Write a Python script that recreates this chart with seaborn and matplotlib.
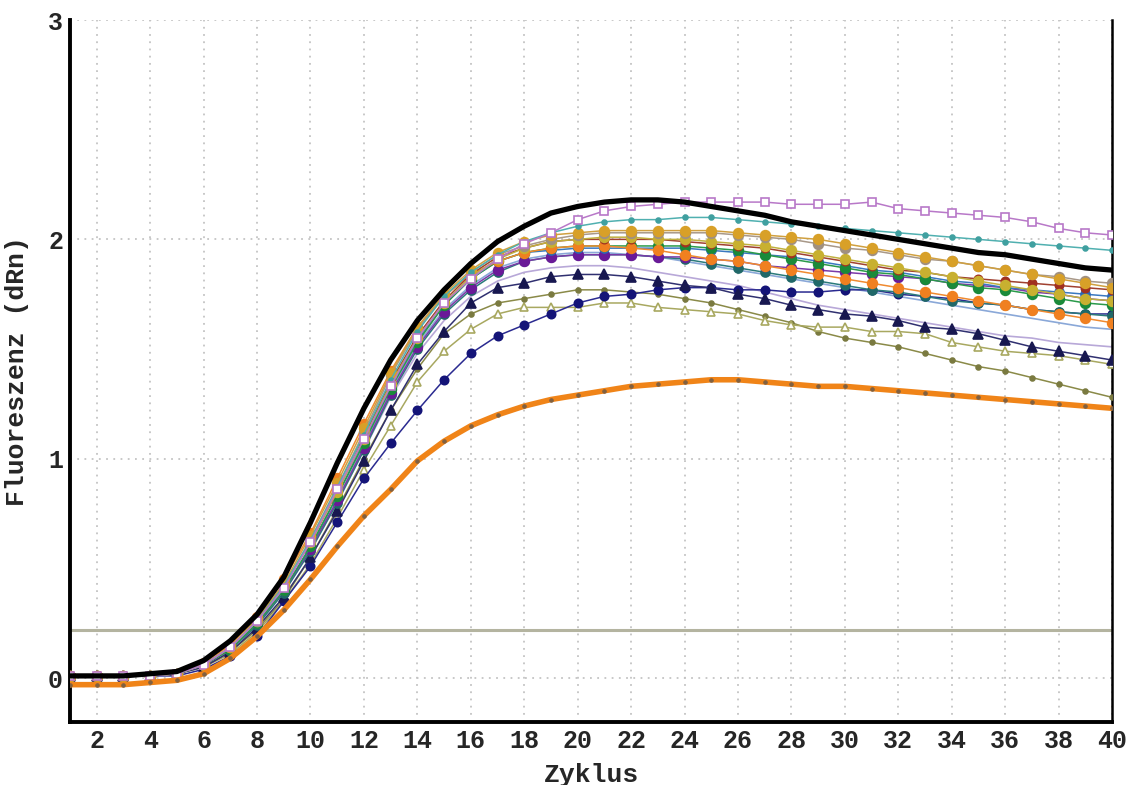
import numpy as np
import pandas as pd
import matplotlib
matplotlib.use("Agg")
import matplotlib.pyplot as plt
import seaborn as sns

cycles = list(range(1, 41))
x_ticks = list(range(2, 41, 2))
y_ticks = [0, 1, 2, 3]
threshold = 0.22

black_ref = [0.01,0.01,0.01,0.02,0.03,0.08,0.17,0.29,0.46,0.71,0.98,1.23,1.45,1.63,1.77,1.89,1.99,2.06,2.12,2.15,2.17,2.18,2.18,2.17,2.15,2.13,2.11,2.08,2.06,2.04,2.02,2.00,1.98,1.96,1.94,1.93,1.91,1.89,1.87,1.86]
orange_ref = [-0.03,-0.03,-0.03,-0.02,-0.01,0.02,0.09,0.19,0.31,0.45,0.60,0.74,0.86,0.99,1.08,1.15,1.20,1.24,1.27,1.29,1.31,1.33,1.34,1.35,1.36,1.36,1.35,1.34,1.33,1.33,1.32,1.31,1.30,1.29,1.28,1.27,1.26,1.25,1.24,1.23]

s_pink = [0.01,0.01,0.01,0.01,0.02,0.06,0.14,0.26,0.41,0.62,0.86,1.09,1.33,1.55,1.71,1.82,1.91,1.98,2.03,2.09,2.13,2.15,2.16,2.17,2.17,2.17,2.17,2.16,2.16,2.16,2.17,2.14,2.13,2.12,2.11,2.10,2.08,2.05,2.03,2.02]
s_teal = [0.01,0.01,0.01,0.01,0.02,0.06,0.14,0.26,0.42,0.63,0.87,1.11,1.36,1.58,1.74,1.85,1.93,1.99,2.03,2.06,2.08,2.09,2.09,2.10,2.10,2.09,2.08,2.07,2.06,2.05,2.04,2.03,2.02,2.01,2.00,1.99,1.98,1.97,1.96,1.95]
s_gold = [0.01,0.01,0.01,0.01,0.02,0.06,0.14,0.27,0.43,0.65,0.89,1.14,1.39,1.60,1.75,1.86,1.94,1.99,2.02,2.03,2.04,2.04,2.04,2.04,2.04,2.03,2.02,2.01,2.00,1.98,1.96,1.94,1.92,1.90,1.88,1.86,1.84,1.82,1.80,1.78]
s_graybrown = [0.01,0.01,0.01,0.01,0.02,0.06,0.14,0.26,0.42,0.63,0.87,1.12,1.38,1.59,1.74,1.85,1.93,1.97,2.00,2.02,2.03,2.03,2.03,2.03,2.03,2.02,2.01,2.00,1.98,1.96,1.95,1.93,1.91,1.90,1.88,1.86,1.84,1.83,1.81,1.80]
s_orange = [0.01,0.01,0.01,0.01,0.02,0.07,0.15,0.28,0.45,0.66,0.91,1.16,1.40,1.60,1.74,1.84,1.90,1.94,1.96,1.97,1.97,1.96,1.95,1.93,1.91,1.90,1.88,1.86,1.84,1.82,1.80,1.78,1.76,1.74,1.72,1.70,1.68,1.66,1.64,1.62]
s_olivey = [0.01,0.01,0.01,0.01,0.02,0.06,0.14,0.26,0.42,0.62,0.85,1.09,1.34,1.55,1.71,1.83,1.91,1.96,1.99,2.00,2.01,2.01,2.00,2.00,1.99,1.98,1.97,1.95,1.93,1.91,1.89,1.87,1.85,1.83,1.81,1.79,1.77,1.75,1.73,1.72]
s_green = [0.01,0.01,0.01,0.01,0.02,0.06,0.13,0.25,0.40,0.60,0.83,1.07,1.32,1.53,1.70,1.82,1.90,1.94,1.96,1.97,1.97,1.97,1.97,1.97,1.96,1.95,1.93,1.91,1.89,1.87,1.85,1.84,1.82,1.80,1.78,1.77,1.75,1.73,1.71,1.70]
s_purple = [0.01,0.01,0.01,0.01,0.02,0.06,0.13,0.25,0.40,0.59,0.81,1.05,1.30,1.51,1.67,1.78,1.86,1.90,1.92,1.93,1.93,1.93,1.92,1.92,1.91,1.90,1.88,1.87,1.86,1.85,1.84,1.83,1.82,1.80,1.79,1.78,1.76,1.75,1.73,1.72]
s_blue = [0.01,0.01,0.01,0.01,0.02,0.06,0.13,0.25,0.40,0.60,0.83,1.08,1.33,1.54,1.70,1.82,1.90,1.94,1.95,1.96,1.96,1.96,1.96,1.96,1.95,1.94,1.93,1.92,1.90,1.88,1.86,1.85,1.83,1.81,1.80,1.78,1.77,1.76,1.75,1.74]
s_darkteal = [0.01,0.01,0.01,0.01,0.02,0.06,0.13,0.24,0.39,0.58,0.80,1.04,1.29,1.50,1.66,1.77,1.85,1.90,1.92,1.93,1.93,1.93,1.92,1.91,1.89,1.87,1.85,1.83,1.81,1.79,1.77,1.76,1.74,1.72,1.71,1.70,1.68,1.67,1.66,1.65]
s_darkred = [0.01,0.01,0.01,0.01,0.02,0.06,0.14,0.26,0.42,0.62,0.85,1.10,1.35,1.56,1.72,1.84,1.92,1.96,1.99,2.00,2.00,2.00,2.00,1.99,1.98,1.97,1.96,1.94,1.92,1.90,1.88,1.86,1.85,1.83,1.82,1.81,1.80,1.79,1.78,1.77]
s_navytri = [0.01,0.01,0.01,0.01,0.02,0.05,0.12,0.23,0.37,0.55,0.76,0.99,1.22,1.43,1.58,1.71,1.78,1.80,1.83,1.84,1.84,1.83,1.81,1.79,1.78,1.75,1.73,1.70,1.68,1.66,1.65,1.63,1.60,1.59,1.57,1.54,1.51,1.49,1.47,1.45]
s_navycirc = [0.01,0.01,0.01,0.01,0.01,0.04,0.10,0.19,0.35,0.51,0.71,0.91,1.07,1.22,1.36,1.48,1.56,1.61,1.66,1.71,1.74,1.75,1.77,1.78,1.78,1.77,1.77,1.76,1.76,1.77,1.77,1.75,1.74,1.73,1.71,1.70,1.68,1.67,1.66,1.66]
s_olivetri = [0.01,0.01,0.01,0.01,0.02,0.05,0.11,0.21,0.35,0.52,0.73,0.95,1.15,1.35,1.49,1.59,1.66,1.69,1.69,1.69,1.71,1.71,1.69,1.68,1.67,1.66,1.63,1.61,1.60,1.60,1.58,1.58,1.57,1.53,1.51,1.49,1.48,1.47,1.45,1.43]
s_olivedot = [0.01,0.01,0.01,0.01,0.02,0.05,0.12,0.22,0.36,0.55,0.77,1.00,1.22,1.41,1.57,1.66,1.71,1.73,1.75,1.77,1.77,1.76,1.75,1.73,1.71,1.68,1.65,1.62,1.58,1.55,1.53,1.51,1.48,1.45,1.42,1.40,1.37,1.34,1.31,1.28]
s_lavender = [0.01,0.01,0.01,0.01,0.02,0.06,0.13,0.24,0.39,0.58,0.80,1.04,1.28,1.48,1.63,1.74,1.81,1.85,1.87,1.88,1.88,1.87,1.85,1.83,1.81,1.79,1.76,1.73,1.70,1.68,1.66,1.64,1.62,1.60,1.58,1.56,1.55,1.53,1.52,1.51]
s_lightblue = [0.01,0.01,0.01,0.01,0.02,0.06,0.13,0.25,0.40,0.59,0.81,1.06,1.31,1.52,1.68,1.79,1.87,1.91,1.93,1.94,1.94,1.93,1.92,1.90,1.88,1.86,1.84,1.82,1.80,1.78,1.76,1.74,1.72,1.70,1.68,1.66,1.64,1.62,1.60,1.59]

# (values, line color, marker, marker face, marker size)
series = [
    (s_lavender, "#b8a8d8", None, None, 0),
    (s_lightblue, "#8aa8d8", None, None, 0),
    (s_olivedot, "#8a8a48", "o", "#7a7a40", 3.5),
    (s_olivetri, "#a8a860", "^", "white", 6),
    (s_navycirc, "#2a2a90", "o", "#141478", 6),
    (s_navytri, "#303070", "^", "#181850", 6.5),
    (s_darkteal, "#2a7a7a", "o", "#206868", 6.5),
    (s_purple, "#7a3aa8", "o", "#6a1a98", 7),
    (s_blue, "#3a78c0", "o", "#2a68b8", 6.5),
    (s_green, "#2a9a4a", "o", "#1a8a3a", 7),
    (s_orange, "#f08a30", "o", "#f08020", 7),
    (s_darkred, "#a04030", "o", "#a03020", 6),
    (s_olivey, "#c0b040", "o", "#c8b030", 7),
    (s_graybrown, "#a89888", "o", "#a09080", 7),
    (s_gold, "#d0a040", "o", "#d8a028", 7),
    (s_teal, "#50b0b0", "o", "#40a0a0", 3.5),
    (s_pink, "#b878c8", "s", "white", 6),
]

sns.set_style("white")
plt.rcParams['font.family'] = ['Liberation Mono', 'DejaVu Sans']

fig = plt.figure(figsize=(11.33, 7.85), dpi=100)
ax = fig.add_axes([0.0618, 0.0803, 0.9197, 0.8942])

grid_kw = dict(color="#c4c4c4", linestyle=(0, (1, 3)), linewidth=1.3, zorder=0)
for xv in x_ticks:
    ax.axvline(xv, **grid_kw)
for yv in y_ticks:
    ax.axhline(yv, **grid_kw)

ax.axhline(threshold, color="#b4b4a0", linewidth=2.2, zorder=1)

for vals, col, mk, mfc, ms in series:
    df = pd.DataFrame({"Zyklus": cycles, "dRn": vals})
    if mk is None:
        sns.lineplot(data=df, x="Zyklus", y="dRn", ax=ax, color=col, linewidth=1.2, zorder=2)
    else:
        sns.lineplot(data=df, x="Zyklus", y="dRn", ax=ax, color=col, linewidth=1.1,
                     marker=mk, markersize=ms, markerfacecolor=mfc,
                     markeredgecolor=col if mfc == "white" else mfc,
                     markeredgewidth=1.2, zorder=3)

df_o = pd.DataFrame({"Zyklus": cycles, "dRn": orange_ref})
sns.lineplot(data=df_o, x="Zyklus", y="dRn", ax=ax, color="#f08418", linewidth=4,
             marker="o", markersize=2.5, markerfacecolor="#806040",
             markeredgecolor="#806040", zorder=4)
df_b = pd.DataFrame({"Zyklus": cycles, "dRn": black_ref})
sns.lineplot(data=df_b, x="Zyklus", y="dRn", ax=ax, color="black", linewidth=3.8, zorder=5)

ax.set_xlim(1, 40)
ax.set_ylim(-0.2, 3)
ax.set_xticks(x_ticks)
ax.set_xticklabels([str(v) for v in x_ticks])
ax.set_yticks(y_ticks)
ax.set_yticklabels([str(v) for v in y_ticks])
ax.set_yticks([0.5, 1.5, 2.5], minor=True)
ax.tick_params(axis="both", which="major", labelsize=18, length=0, pad=5)
ax.tick_params(axis="y", which="minor", length=3, color="#999999")
for lab in ax.get_xticklabels() + ax.get_yticklabels():
    lab.set_fontweight("bold")

ax.set_xlabel("Zyklus", fontsize=19, fontweight="bold", labelpad=7)
ax.set_ylabel("Fluoreszenz (dRn)", fontsize=19, fontweight="bold", labelpad=14)

ax.spines["top"].set_visible(False)
ax.spines["left"].set_linewidth(2.8)
ax.spines["bottom"].set_linewidth(2.8)
ax.spines["right"].set_linewidth(1.8)
for s in ["left", "bottom", "right"]:
    ax.spines[s].set_color("black")

fig.savefig("out.png", dpi=100)
